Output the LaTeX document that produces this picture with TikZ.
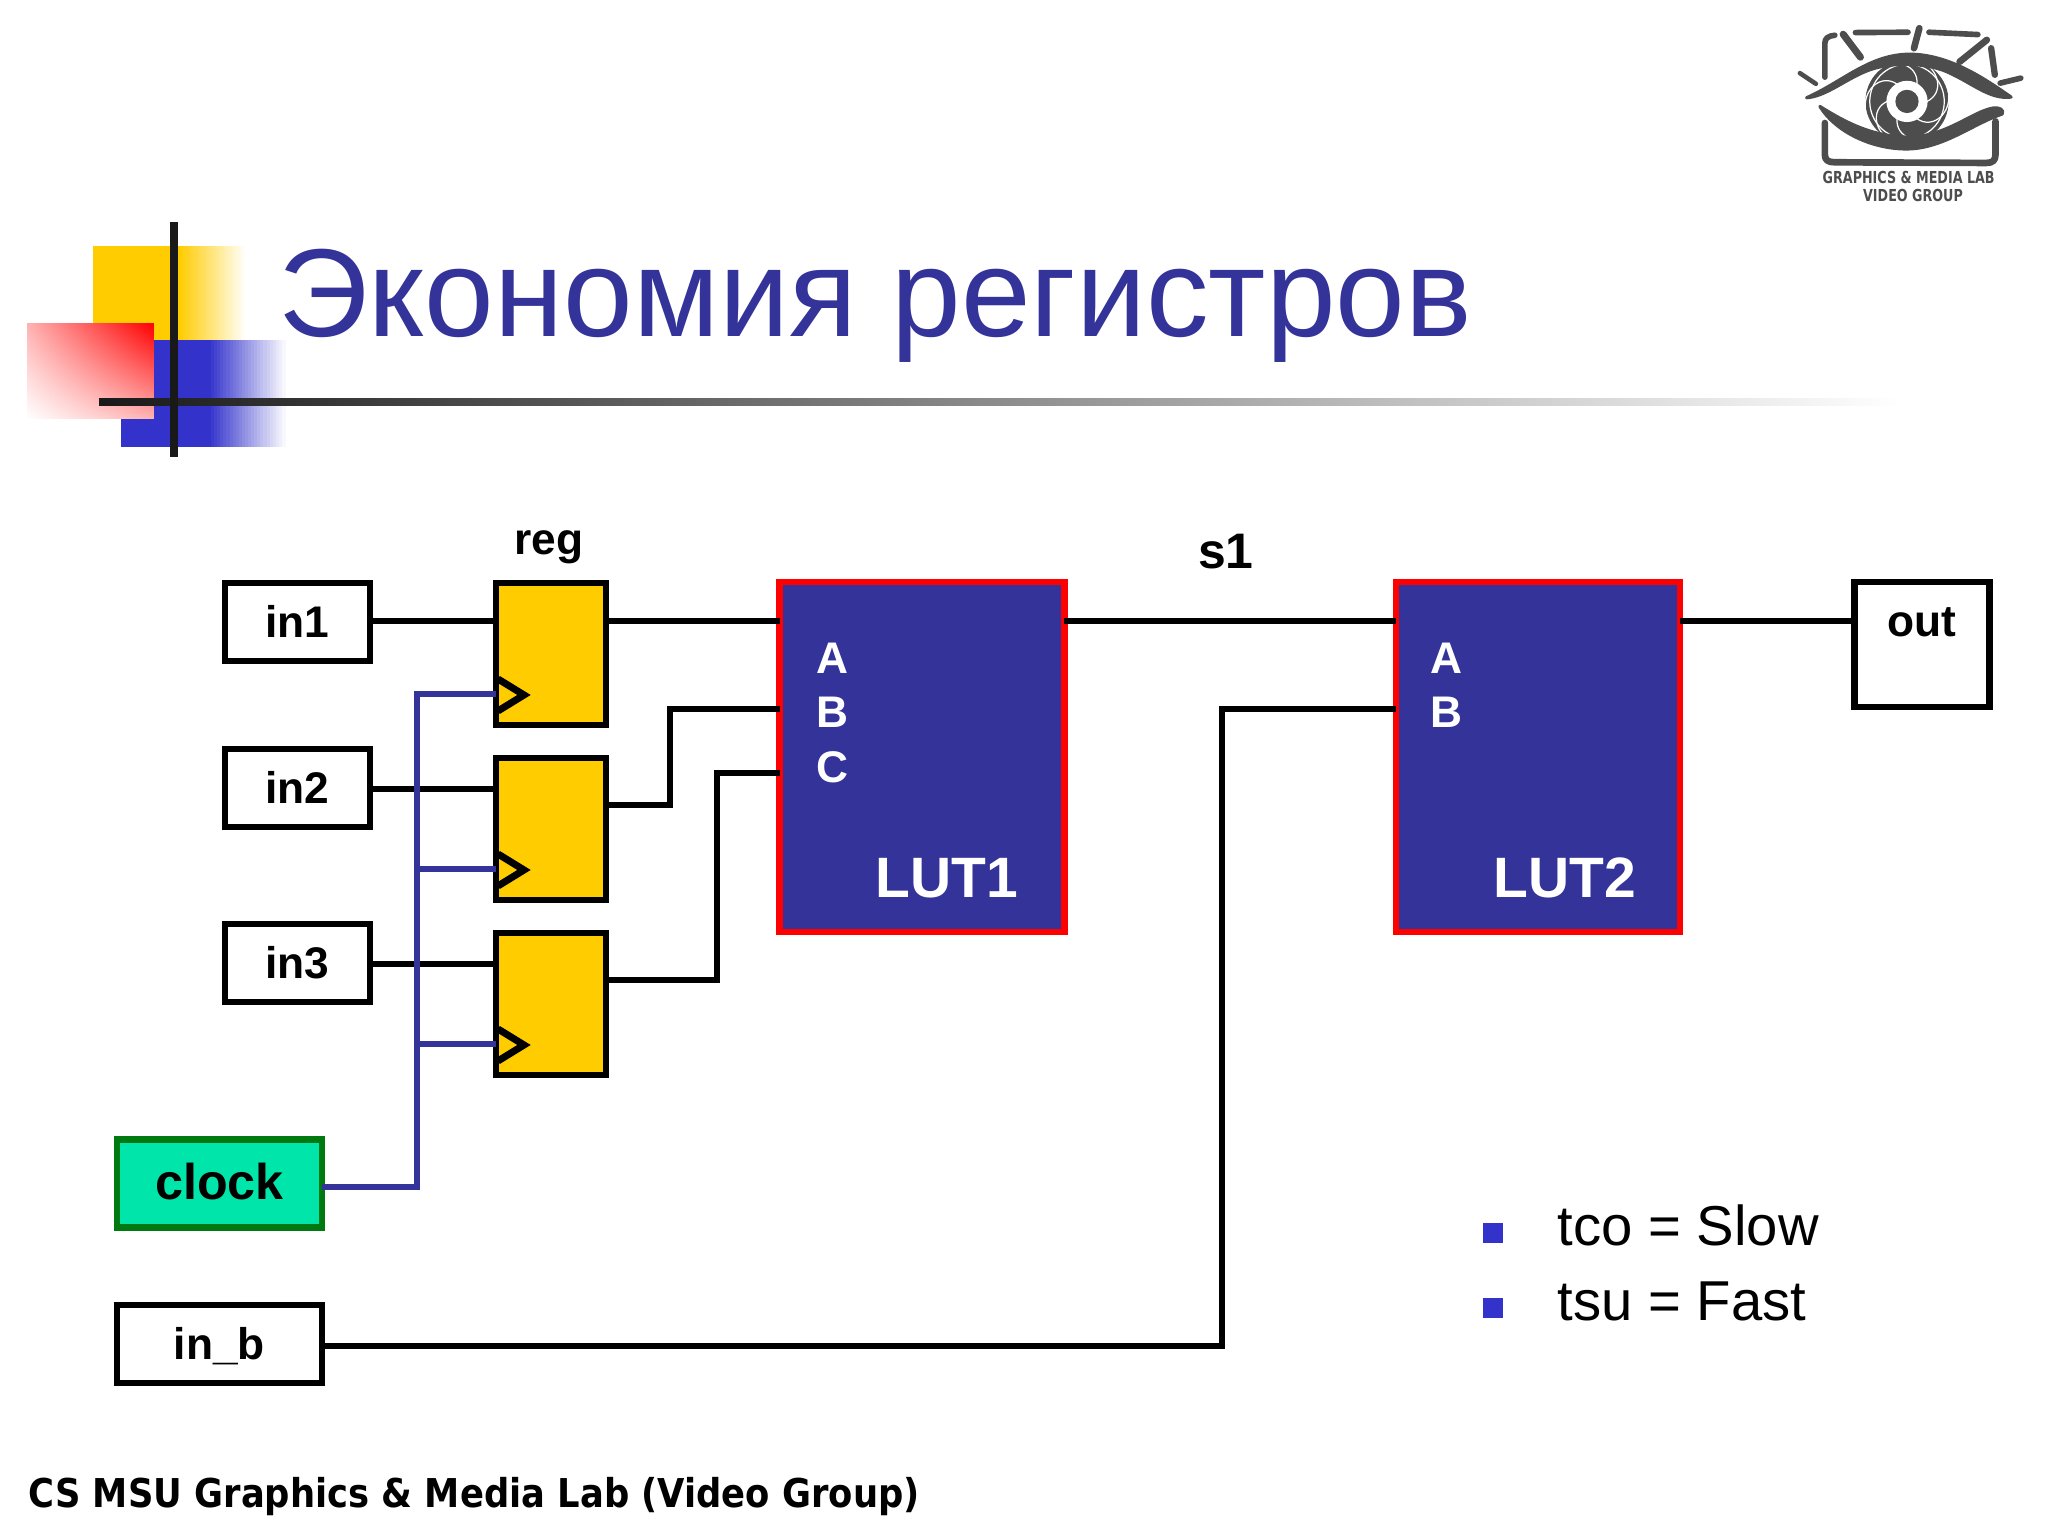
\documentclass[tikz,border=0pt]{standalone}
\usepackage{fontspec}
\setmainfont{Liberation Sans}
\newfontfamily\footfont{DejaVu Sans}
\usepackage{tikz}
\usetikzlibrary{shadings}

\definecolor{slideblue}{HTML}{333399}
\definecolor{squareblue}{HTML}{3333CC}
\definecolor{regyellow}{HTML}{FFCC00}
\definecolor{clockgreen}{HTML}{00E5AA}
\definecolor{clockedge}{HTML}{007A10}
\definecolor{logogray}{HTML}{4D4D4D}
\tikzset{
  boxbase/.style={draw, line width=1.9pt, inner sep=0pt, outer sep=0pt},
  portbox/.style={boxbase, fill=white, text height=0.32cm, text depth=0pt,
    font=\fontsize{12.6}{15}\selectfont\bfseries},
  regbox/.style={boxbase, fill=regyellow, minimum width=1.10cm, minimum height=1.42cm},
  lutbox/.style={boxbase, draw=red, fill=slideblue, minimum height=3.50cm},
  wire/.style={line width=1.75pt},
  clockwire/.style={line width=1.6pt, draw=slideblue},
  tag/.style={inner sep=0pt, anchor=base, font=\fontsize{12.6}{15}\selectfont\bfseries},
  pinlabel/.style={tag, text=white},
  lutlabel/.style={inner sep=0pt, anchor=base, text=white, font=\fontsize{16.2}{19}\selectfont\bfseries},
  bullettext/.style={inner sep=0pt, anchor=base west, font=\fontsize{16}{19}\selectfont},
  logostroke/.style={draw=logogray, line cap=round, line join=round},
  logotext/.style={inner sep=0pt, anchor=base, text=logogray, xscale=0.77, font=\fontsize{4.7}{6}\footfont\bfseries},
}

\begin{document}
\begin{tikzpicture}
\useasboundingbox (0,0) rectangle (20.48,15.36);
\fill[regyellow] (0.93, 11.96) rectangle (1.78, 12.90) ; % yellow.solid
\foreach \p in {0,4,...,96}
  \fill[regyellow!\the\numexpr100-\p\relax!white] ({1.78+0.0067*\p}, 11.96) rectangle ({1.78+0.0067*(\p+4)+0.005}, 12.90) ; % yellow.fade
\fill[squareblue] (1.21, 10.89) rectangle (2.08, 11.96) ; % blue.solid
\foreach \p in {0,4,...,96}
  \fill[squareblue!\the\numexpr100-\p\relax!white] ({2.08+0.0077*\p}, 10.89) rectangle ({2.08+0.0077*(\p+4)+0.005}, 11.96) ; % blue.fade
\shade[upper right=red, upper left=red!30, lower right=red!30, lower left=white] (0.27, 11.17) rectangle (1.54, 12.12) ; % red.corner
\shade[left color=black!90, right color=white] (0.99, 11.30) rectangle (19.00, 11.37) ; % rule.h
\fill[black!90] (1.70, 10.79) rectangle (1.78, 13.14) ; % rule.v
\node[inner sep=0pt, anchor=base west, text=slideblue, font=\fontsize{35.6}{42}\selectfont] (title) at (2.78, 11.99) {Экономия регистров};

% logo
\begin{scope}[shift={(17.6,15.36)}, x=0.003333cm, y=-0.003333cm]
\draw[logostroke, line width=1.6pt] (195,232) -- (195,130) .. controls (195,115) and (205,108) .. (225,106) ;
\draw[logostroke, line width=2.0pt] (250,103) -- (302,172) ;
\draw[logostroke, line width=1.6pt] (287,98) -- (445,97) ;
\draw[logostroke, line width=1.9pt] (479,85) -- (463,145) ;
\draw[logostroke, line width=1.6pt] (508,97) -- (655,104) ;
\draw[logostroke, line width=1.9pt] (682,120) -- (600,186) ;
\draw[logostroke, line width=1.8pt] (695,145) -- (706,225) ;
\draw[logostroke, line width=1.6pt] (722,250) -- (784,235) ;
\draw[logostroke, line width=1.3pt] (120,220) -- (168,252) ;
\draw[logostroke, line width=1.9pt] (195,370) -- (195,465) .. controls (195,482) and (205,488) .. (225,488) -- (680,490) .. controls (700,490) and (708,482) .. (708,465) -- (708,365) ;
\fill[logogray] (442,305) ellipse (125 and 125) ; % iris
\foreach \a in {0,60,...,300}
  \draw[white, line width=0.35pt, rotate around={\a:(442,305)}] (502,305) .. controls (555,280) and (540,205) .. (478,182) ;
\draw[white, line width=0.35pt] (442,305) ellipse (112 and 112) ;
\fill[white] (442,305) ellipse (62 and 62) ;
\fill[logogray] (442,305) ellipse (35 and 35) ;
\filldraw[logostroke, fill=logogray, line width=0.9pt] (140,294) .. controls (250,245) and (330,163) .. (450,163) .. controls (570,163) and (680,240) .. (755,292) .. controls (690,300) and (640,250) .. (560,215) .. controls (500,190) and (400,185) .. (330,210) .. controls (260,235) and (200,290) .. cycle ;
\filldraw[logostroke, fill=logogray, line width=0.9pt] (180,320) .. controls (230,400) and (340,448) .. (440,448) .. controls (550,448) and (640,372) .. (728,343) .. controls (735,330) and (720,322) .. (700,325) .. controls (640,335) and (560,410) .. (450,412) .. controls (340,412) and (260,370) .. cycle ;
\node[logotext] (logotop) at (447,553) {GRAPHICS \& MEDIA LAB};
\node[logotext] (logobot) at (460,605) {VIDEO GROUP};
\end{scope}

\coordinate (rowa) at (0, 9.15) ;
\coordinate (rowb) at (0, 7.47) ;
\coordinate (rowc) at (0, 5.72) ;
\coordinate (rowd) at (0, 1.90) ;
\coordinate (bendb) at (6.70, 8.27) ;
\coordinate (bendc) at (7.17, 7.63) ;
\coordinate (riser) at (12.22, 8.27) ;
\coordinate (bus) at (4.17, 8.42) ;
\coordinate (clk2) at (4.17, 6.67) ;
\coordinate (clk3) at (4.17, 4.92) ;
\coordinate (clkin) at (4.17, 3.49) ;
\coordinate (regout2) at (6.09, 7.31) ;
\coordinate (regout3) at (6.09, 5.56) ;

\node[regbox] (reg1) at (5.51, 8.82) {};
\node[regbox] (reg2) at (5.51, 7.07) {};
\node[regbox] (reg3) at (5.51, 5.32) {};
\node[lutbox, minimum width=2.845cm] (lut1) at (9.22, 7.79) {};
\node[lutbox, minimum width=2.84cm] (lut2) at (15.38, 7.79) {};

\node[portbox, minimum width=1.45cm, minimum height=0.78cm] (in1) at (2.975, 9.14) {in1};
\node[portbox, minimum width=1.45cm, minimum height=0.78cm] (in2) at (2.975, 7.48) {in2};
\node[portbox, minimum width=1.45cm, minimum height=0.78cm] (in3) at (2.975, 5.73) {in3};
\node[portbox, minimum width=2.05cm, minimum height=0.78cm] (inb) at (2.195, 1.92) {in\_b};
\node[portbox, fill=clockgreen, draw=clockedge, minimum width=2.05cm, minimum height=0.88cm, font=\fontsize{14.3}{17}\selectfont\bfseries, text height=0.32cm] (clock) at (2.195, 3.525) {clock};
\node[boxbase, fill=white, minimum width=1.35cm, minimum height=1.25cm] (out) at (19.22, 8.915) {};

\draw[wire] (in1.east |- rowa) -- (reg1.west |- rowa) ; % in1
\draw[wire] (in2.east |- rowb) -- (reg2.west |- rowb) ; % in2
\draw[wire] (in3.east |- rowc) -- (reg3.west |- rowc) ; % in3
\draw[wire] (reg1.east |- rowa) -- (lut1.west |- rowa) ; % reg1
\draw[wire] (regout2) -| (bendb) -- (lut1.west |- bendb) ; % reg2
\draw[wire] (regout3) -| (bendc) -- (lut1.west |- bendc) ; % reg3
\draw[wire] (lut1.east |- rowa) -- (lut2.west |- rowa) ; % s1
\draw[wire] (lut2.east |- rowa) -- (out.west |- rowa) ; % out
\draw[wire] (inb.east |- rowd) -| (riser) -- (lut2.west |- riser) ; % in_b
\draw[clockwire] (clock.east |- clkin) -| (bus) -- (reg1.west |- bus) ; % clock
\draw[clockwire] (clk2) -- (reg2.west |- clk2) ; % clock.2
\draw[clockwire] (clk3) -- (reg3.west |- clk3) ; % clock.3

\foreach \r in {1,2,3}
  \draw[line width=2pt, line join=miter] ([xshift=0.02cm, yshift=-0.96cm]reg\r.north west) -- ([xshift=0.28cm, yshift=-1.12cm]reg\r.north west) -- ([xshift=0.02cm, yshift=-1.28cm]reg\r.north west) ;

\node[tag] (reglab) at (5.49, 9.81) {reg};
\node[tag, font=\fontsize{14.2}{17}\selectfont\bfseries] (s1) at (12.26, 9.67) {s1};
\node[tag] (outlab) at (19.22, 8.99) {out};
\node[pinlabel] (a1) at (8.325, 8.62) {A};
\node[pinlabel] (b1) at (8.325, 8.08) {B};
\node[pinlabel] (c1) at (8.325, 7.53) {C};
\node[pinlabel] (a2) at (14.46, 8.62) {A};
\node[pinlabel] (b2) at (14.46, 8.08) {B};
\node[lutlabel] (lutname1) at (9.47, 6.38) {LUT1};
\node[lutlabel] (lutname2) at (15.65, 6.38) {LUT2};

\fill[squareblue] (14.83, 3.13) rectangle (15.03, 2.93) ; % bullet.1
\fill[squareblue] (14.83, 2.38) rectangle (15.03, 2.18) ; % bullet.2
\node[bullettext] (tco) at (15.57, 2.90) {tco = Slow};
\node[bullettext] (tsu) at (15.57, 2.15) {tsu = Fast};
\node[inner sep=0pt, anchor=base west, xscale=0.89, font=\fontsize{11.3}{14}\footfont\bfseries] (foot) at (0.28, 0.28) {CS MSU Graphics \& Media Lab (Video Group)};
\end{tikzpicture}
\end{document}
